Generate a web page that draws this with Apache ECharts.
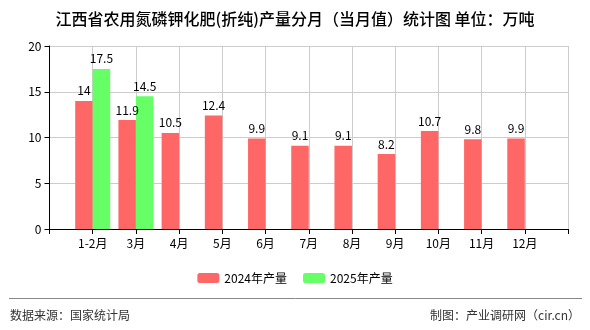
<!DOCTYPE html>
<html><head><meta charset="utf-8">
<script src="https://cdn.jsdelivr.net/npm/echarts@6/dist/echarts.min.js"></script>
<style>html,body{margin:0;padding:0;background:#fff}#c{width:590px;height:330px}</style>
</head><body><div id="c"></div>
<script>
const categories = ['1-2月','3月','4月','5月','6月','7月','8月','9月','10月','11月','12月'];
const values2024 = [14, 11.9, 10.5, 12.4, 9.9, 9.1, 9.1, 8.2, 10.7, 9.8, 9.9];
const values2025 = [17.5, 14.5];
const yTicks = [0, 5, 10, 15, 20];

const pad = arr => ['-'].concat(arr).concat(Array(categories.length - arr.length).fill('-')).concat(['-']);
const cats = [''].concat(categories).concat(['']);
const font = '"Noto Sans CJK SC", sans-serif';
const chart = echarts.init(document.getElementById('c'), null, {renderer: 'canvas'});
const lbl = {show: true, position: 'top', color: '#000', fontSize: 12, fontFamily: font, distance: 4};
chart.setOption({
  animation: false,
  title: {text: '江西省农用氮磷钾化肥(折纯)产量分月（当月值）统计图 单位：万吨', left: 'center', top: 6,
    textStyle: {fontSize: 16, fontWeight: 500, color: '#000', fontFamily: font}},
  grid: {left: 49.5, right: 22, top: 46, bottom: 101, containLabel: false},
  legend: {top: 267, left: 'center', itemWidth: 22, itemHeight: 10, itemGap: 16,
    textStyle: {fontSize: 12, color: '#000', fontFamily: font},
    data: ['2024年产量', '2025年产量']},
  xAxis: {type: 'category', data: cats, boundaryGap: false,
    axisLine: {lineStyle: {color: '#000'}},
    axisTick: {show: true, length: 5, lineStyle: {color: '#000'}},
    axisLabel: {color: '#000', fontSize: 12, fontFamily: font, interval: 0, margin: 8},
    splitLine: {show: true, lineStyle: {color: '#ccc'}}},
  yAxis: {type: 'value', min: yTicks[0], max: yTicks[yTicks.length - 1], interval: 5,
    axisLine: {show: true, lineStyle: {color: '#000'}},
    axisTick: {show: true, length: 5, lineStyle: {color: '#000'}},
    axisLabel: {color: '#000', fontSize: 12, fontFamily: font, margin: 8},
    splitLine: {show: true, lineStyle: {color: '#ccc'}}},
  series: [
    {name: '2024年产量', type: 'bar', data: pad(values2024), barWidth: 17.5, barGap: '0%',
      itemStyle: {color: '#FF6666'}, label: lbl},
    {name: '2025年产量', type: 'bar', data: pad(values2025), barWidth: 17.5, barGap: '0%',
      itemStyle: {color: '#66FF66'}, label: lbl}
  ],
  graphic: [
    {type: 'line', shape: {x1: 9, y1: 298.5, x2: 582, y2: 298.5}, style: {stroke: '#888', lineWidth: 1}},
    {type: 'text', left: 10, top: 309, style: {text: '数据来源：国家统计局', fontSize: 12, fill: '#333', fontFamily: font}},
    {type: 'text', right: 10, top: 309, style: {text: '制图：产业调研网（cir.cn）', fontSize: 12, fill: '#333', fontFamily: font}}
  ]
});
</script></body></html>
